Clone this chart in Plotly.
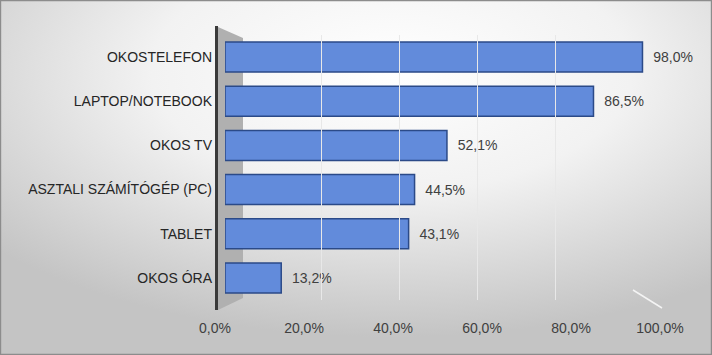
import base64
import plotly.graph_objects as go

categories = ["OKOSTELEFON", "LAPTOP/NOTEBOOK", "OKOS TV", "ASZTALI SZÁMÍTÓGÉP (PC)", "TABLET", "OKOS ÓRA"]
values = [98.0, 86.5, 52.1, 44.5, 43.1, 13.2]
tick_values = [0, 20, 40, 60, 80, 100]
tick_labels = ["0,0%", "20,0%", "40,0%", "60,0%", "80,0%", "100,0%"]

W_FIG, H_FIG = 712, 355
L, R, T, B = 215, 660, 35, 300
PW, PH = R - L, B - T

def px(x):
    return (x - L) / PW

def py(y):
    return (B - y) / PH

svg = f'''<svg xmlns="http://www.w3.org/2000/svg" width="{W_FIG}" height="{H_FIG}">
<defs><radialGradient id="g" cx="0.55" cy="0.2" r="0.75">
<stop offset="0" stop-color="#ffffff"/><stop offset="0.45" stop-color="#f2f2f2"/>
<stop offset="1" stop-color="#c4c4c4"/></radialGradient></defs>
<rect width="{W_FIG}" height="{H_FIG}" fill="url(#g)"/></svg>'''
bg_src = "data:image/svg+xml;base64," + base64.b64encode(svg.encode()).decode()

FONT = "Liberation Sans, Arial, sans-serif"

fig = go.Figure()
fig.add_trace(go.Bar(
    y=categories, x=values, orientation="h", width=0.68,
    marker=dict(color="#628bdb", line=dict(color="#2b4a88", width=1.5)),
    texttemplate="\u00a0\u00a0%{x:.1f}%", textposition="outside",
    textfont=dict(color="#404040", size=14, family=FONT), cliponaxis=False,
    showlegend=False, hoverinfo="skip", xaxis="x", yaxis="y",
))
fig.add_trace(go.Scatter(x=[0], y=[categories[0]], mode="markers", marker=dict(opacity=0),
                         showlegend=False, hoverinfo="skip", xaxis="x2", yaxis="y"))
fig.add_trace(go.Scatter(x=[0], y=[categories[0]], mode="markers", marker=dict(opacity=0),
                         showlegend=False, hoverinfo="skip", xaxis="x3", yaxis="y"))

wall = f"M {px(218)},{py(27)} L {px(243)},{py(38)} L {px(243)},{py(298)} L {px(218)},{py(310)} Z"
floor_edge = f"M {px(633)},{py(290)} L {px(662)},{py(308)}"

fig.update_layout(
    width=W_FIG, height=H_FIG,
    margin=dict(l=L, r=W_FIG - R, t=T, b=H_FIG - B),
    paper_bgcolor="#e6e6e6", plot_bgcolor="rgba(0,0,0,0)",
    font=dict(family=FONT, size=14, color="#333333"),
    separators=", ",
    images=[dict(source=bg_src, xref="paper", yref="paper", x=-L / PW, y=1 + T / PH,
                 sizex=W_FIG / PW, sizey=H_FIG / PH, sizing="stretch", layer="below",
                 xanchor="left", yanchor="top")],
    xaxis=dict(domain=[px(225), px(651)], range=[0, 100], showgrid=False, zeroline=False,
               showticklabels=False, showline=False, anchor="y"),
    xaxis2=dict(domain=[0, 1], range=[0, 100], tickvals=tick_values, ticktext=tick_labels,
                showgrid=False, zeroline=False, showline=False, anchor="y",
                ticklabelstandoff=18, tickfont=dict(color="#404040", size=14)),
    xaxis3=dict(domain=[px(243), px(633)], range=[0, 100], tickvals=tick_values,
                showgrid=True, gridcolor="#e8e8e8", gridwidth=1, zeroline=False,
                showticklabels=False, showline=False, anchor="y"),
    yaxis=dict(type="category", categoryarray=categories, range=[5.5, -0.5],
               showgrid=False, zeroline=False, showline=False, ticklabelstandoff=12,
               tickfont=dict(color="#262626", size=14)),
    shapes=[
        dict(type="path", path=wall, xref="paper", yref="paper", fillcolor="#b0b0b0",
             line=dict(width=0), layer="below"),
        dict(type="line", xref="paper", yref="paper", x0=px(216.5), x1=px(216.5),
             y0=py(26), y1=py(310), line=dict(color="#3a3a3a", width=3), layer="above"),
        dict(type="path", path=floor_edge, xref="paper", yref="paper",
             line=dict(color="#f4f4f4", width=1.5), layer="below"),
        dict(type="rect", xref="paper", yref="paper", x0=-L / PW + 0.001, x1=(W_FIG - L) / PW - 0.001,
             y0=-(H_FIG - B) / PH + 0.002, y1=1 + T / PH - 0.002,
             line=dict(color="#8c8c8c", width=1.5), layer="above"),
    ],
)

fig.write_html("out.html")
